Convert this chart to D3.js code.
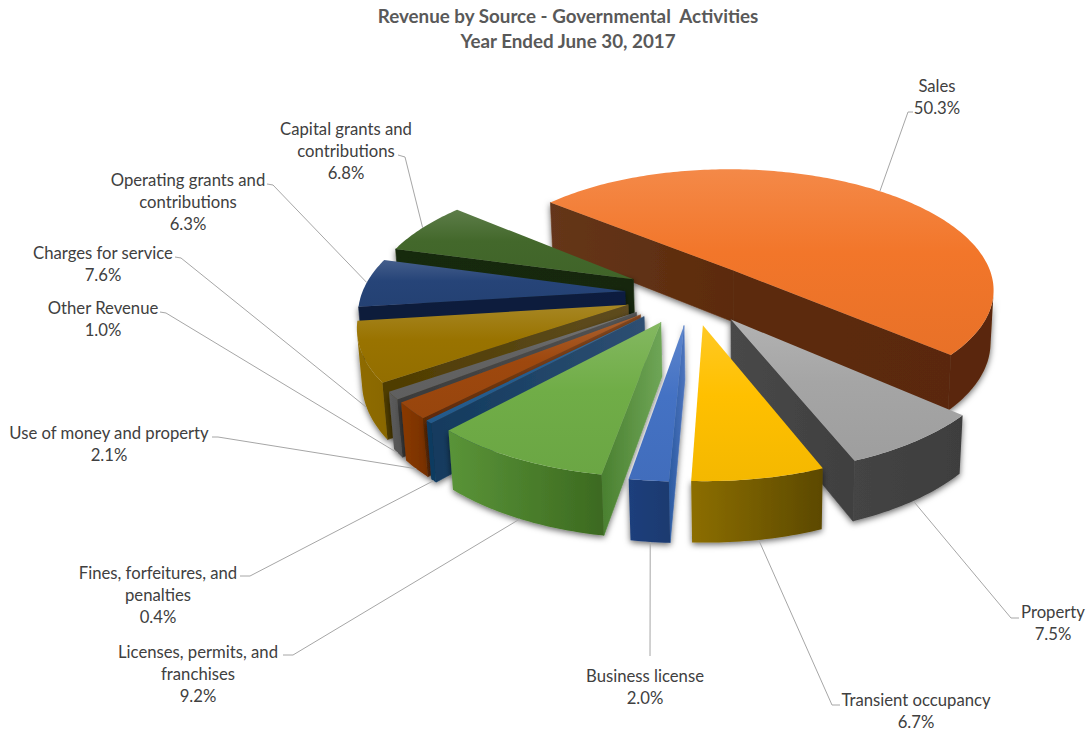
<!DOCTYPE html>
<html>
<head>
<meta charset="utf-8">
<title>Revenue by Source - Governmental Activities</title>
<style>
  html, body { margin: 0; background: #fff; }
  svg { display: block; }
  text { font-family: Lato, "Open Sans", sans-serif; white-space: pre; }
</style>
</head>
<body>
<svg id="chart" width="1090" height="732"></svg>
<script src="https://cdn.jsdelivr.net/npm/d3@7"></script>
<script>
// Revenue sources and their share of the total, clockwise from Sales.
const sources = ["Sales", "Property", "Transient occupancy", "Business license",
  "Licenses, permits, and franchises", "Fines, forfeitures, and penalties",
  "Use of money and property", "Other Revenue", "Charges for service",
  "Operating grants and contributions", "Capital grants and contributions"];
const shares = [50.3, 7.5, 6.7, 2.0, 9.2, 0.4, 2.1, 1.0, 7.6, 6.3, 6.8];

// Label text broken into rows, one list per source.
const labelRows = [["Sales"], ["Property"], ["Transient occupancy"], ["Business license"],
  ["Licenses, permits, and", "franchises"], ["Fines, forfeitures, and", "penalties"],
  ["Use of money and property"], ["Other Revenue"], ["Charges for service"],
  ["Operating grants and", "contributions"], ["Capital grants and", "contributions"]];

// Face colours of the slices.
const topColors = ["#f2762a", "#a5a5a5", "#ffc000", "#4472c4", "#70ad47", "#255e91",
  "#9e480e", "#636363", "#997300", "#264478", "#43682b"];
// Rim wall colour at the slice's first and last angle.
const rimWallColors = [["#5a2809", "#5a2809"], ["#3e3e3e", "#444444"], ["#5c4900", "#8c6e00"],
  ["#1b3a70", "#1f3f7c"], ["#3c6a20", "#5a9438"], ["#0f3a60", "#103c64"], ["#7a3205", "#8a3a05"],
  ["#565656", "#5c5c5c"], ["#8a6800", "#8f6c00"], ["#1e3060", "#1e3060"], ["#2e4a1c", "#2e4a1c"]];
// Cut-face colours (rim end, centre end) for the first and last radial edge.
const startWallColors = [["#65361a", "#5c2b0c"], ["#404040", "#484848"], ["#5c4900", "#5c4900"],
  ["#2a5aa0", "#4a72bc"], ["#4a8030", "#6ea556"], ["#123a5e", "#2e4f72"], ["#5e2a06", "#8a4a20"],
  ["#3a3a3a", "#555555"], ["#4f3c00", "#5e4c20"], ["#0a1a3a", "#0b1c3f"], ["#17290c", "#15280a"]];
const endWallColors = [["#5a2809", "#5c2b0c"], ["#404040", "#484848"], ["#8c6e00", "#8c6e00"],
  ["#1f3f7c", "#1f3f7c"], ["#5a9438", "#5a9438"], ["#103c64", "#103c64"], ["#8a3a05", "#8a3a05"],
  ["#5c5c5c", "#5c5c5c"], ["#8f6c00", "#8f6c00"], ["#1e3060", "#1e3060"], ["#2e4a1c", "#2e4a1c"]];

// Pie layout on the ground plane: unit radius, every slice pulled out by the same distance.
const firstAngle = -52.948 * Math.PI / 180;
const explosion = 0.253;

// Homogeneous camera matrix mapping ground coordinates (u, v, z) to the page.
const cameraX = [257.22, 115.65, -9.57, 691.29];
const cameraY = [3.76, -79.02, -57.02, 293.43];
const cameraW = [-0.00846, 0.14761, -0.01274, 1];

function project(u, v, z) {
  const w = cameraW[0] * u + cameraW[1] * v + cameraW[2] * z + cameraW[3];
  return [(cameraX[0] * u + cameraX[1] * v + cameraX[2] * z + cameraX[3]) / w,
          (cameraY[0] * u + cameraY[1] * v + cameraY[2] * z + cameraY[3]) / w];
}

const slices = d3.pie().sort(null)
  .startAngle(firstAngle).endAngle(firstAngle + 2 * Math.PI)(shares)
  .map((d, i) => ({ ...d, i, mid: (d.startAngle + d.endAngle) / 2 }));

// A point on a slice given an angle, a radius and a height (0 top, -1 base).
function slicePoint(s, angle, radius, z) {
  return project(explosion * Math.sin(s.mid) + radius * Math.sin(angle),
                 explosion * Math.cos(s.mid) + radius * Math.cos(angle), z);
}

const svg = d3.select("#chart");
const defs = svg.append("defs");
const outline = d3.line();

// Soft shadow under the side walls.
const shadow = defs.append("filter").attr("id", "wallShadow")
  .attr("x", "-20%").attr("y", "-20%").attr("width", "140%").attr("height", "140%");
shadow.append("feDropShadow").attr("dx", 0).attr("dy", 2).attr("stdDeviation", 3)
  .attr("flood-color", "#000").attr("flood-opacity", 0.6);

// Each top face is lightest at its far edge.
slices.forEach(s => {
  const base = topColors[s.i];
  const g = defs.append("linearGradient").attr("id", "top" + s.i)
    .attr("x1", 0).attr("y1", 0).attr("x2", 0).attr("y2", 1);
  g.append("stop").attr("offset", 0).attr("stop-color", d3.interpolateRgb(base, "#fff")(0.14));
  g.append("stop").attr("offset", 0.45).attr("stop-color", base);
  g.append("stop").attr("offset", 1).attr("stop-color", d3.rgb(base).darker(0.12));
});

// A left-to-right gradient between two page points, used to shade one wall.
function wallFill(id, from, to, colors) {
  const g = defs.append("linearGradient").attr("id", id).attr("gradientUnits", "userSpaceOnUse")
    .attr("x1", from[0]).attr("y1", 0).attr("x2", to[0]).attr("y2", 0);
  g.append("stop").attr("offset", 0).attr("stop-color", colors[0]);
  g.append("stop").attr("offset", 1).attr("stop-color", colors[1]);
  return `url(#${id})`;
}

// Positive when a wall, wound in drawing order, faces the viewer.
const facing = quad => d3.polygonArea(quad) > 0;

// Far slices first so that nearer ones paint over them.
const drawOrder = slices.slice().sort((a, b) => d3.descending(Math.cos(a.mid), Math.cos(b.mid)));

drawOrder.forEach(s => {
  const g = svg.append("g").attr("class", "slice");
  const walls = g.append("g").attr("filter", "url(#wallShadow)");

  // Radial cut faces.
  const radial = (angle, colors, id, flip) => {
    const rimTop = slicePoint(s, angle, 1, 0), hubTop = slicePoint(s, angle, 0, 0);
    const quad = [rimTop, hubTop, slicePoint(s, angle, 0, -1), slicePoint(s, angle, 1, -1)];
    if (!facing(flip ? quad.slice().reverse() : quad)) return;
    const fill = wallFill(id + s.i, rimTop, hubTop, colors);
    walls.append("path").attr("d", outline(quad) + "Z")
      .attr("fill", fill).attr("stroke", fill).attr("stroke-width", 0.6);
  };
  radial(s.startAngle, startWallColors[s.i], "startWall", true);
  radial(s.endAngle, endWallColors[s.i], "endWall", false);

  // Outer wall, keeping only the part turned towards the viewer.
  const steps = Math.max(6, Math.ceil((s.endAngle - s.startAngle) / (Math.PI / 180)));
  const angles = d3.range(steps + 1).map(k => s.startAngle + (s.endAngle - s.startAngle) * k / steps);
  const visible = d3.pairs(angles).filter(([a0, a1]) => facing(
    [slicePoint(s, a0, 1, 0), slicePoint(s, a1, 1, 0), slicePoint(s, a1, 1, -1), slicePoint(s, a0, 1, -1)]));
  if (visible.length) {
    const run = [visible[0][0], ...visible.map(p => p[1])];
    const ring = [...run.map(a => slicePoint(s, a, 1, 0)),
                  ...run.slice().reverse().map(a => slicePoint(s, a, 1, -1))];
    walls.append("path").attr("d", outline(ring) + "Z")
      .attr("fill", wallFill("rimWall" + s.i, slicePoint(s, s.startAngle, 1, 0),
        slicePoint(s, s.endAngle, 1, 0), rimWallColors[s.i]));
  }

  // Top face.
  const top = [slicePoint(s, s.mid, 0, 0), ...angles.map(a => slicePoint(s, a, 1, 0))];
  g.append("path").attr("d", outline(top) + "Z").attr("fill", `url(#top${s.i})`);
});

// Label placement: x of the text centre, y of the first baseline, the outer end of
// each leader, its bend next to the text, and how far down the wall it ends.
const labelCenterX = [937, 1053, 916, 645, 198, 158, 109, 103, 103, 188, 346];
const labelFirstY = [92, 618, 706, 682, 658, 579, 439, 314, 259, 186, 135];
const leaderStart = [[913, 112], [1019, 618], [840, 705], [650, 656], [283, 655], [240, 576],
  [212, 437], [160, 312], [175, 257], [267, 184], [398, 155]];
const leaderBend = [[908, 112], [1011, 618], [832, 705], [650, 656], [293, 655], [250, 576],
  [218, 437], [166, 313], [181, 258], [273, 185], [405, 157]];
const leaderDepth = [0, -1, -1, -1, -1, -1, -1, -1, -1, 0, 0];

const rowHeight = 22;

const leaders = svg.append("g").attr("fill", "none").attr("stroke", "#a6a6a6").attr("stroke-width", 1);
slices.forEach(s => {
  const end = slicePoint(s, s.mid, 1, leaderDepth[s.i]);
  leaders.append("path").attr("d", outline([leaderStart[s.i], leaderBend[s.i], end]));
});

const labels = svg.append("g").attr("fill", "#404040").attr("font-size", 16.7).attr("text-anchor", "middle");
slices.forEach(s => {
  const rows = [...labelRows[s.i], s.data.toFixed(1) + "%"];
  const t = labels.append("text").attr("x", labelCenterX[s.i]).attr("y", labelFirstY[s.i]);
  rows.forEach((row, k) => t.append("tspan").attr("x", labelCenterX[s.i])
    .attr("dy", k ? rowHeight : 0).text(row));
});

// Chart title.
const titleRows = ["Revenue by Source - Governmental  Activities", "Year Ended June 30, 2017"];
svg.append("g").attr("fill", "#595959").attr("font-size", 18.8).attr("font-weight", 700)
  .attr("text-anchor", "middle")
  .selectAll("text").data(titleRows).join("text")
  .attr("x", 568).attr("y", (d, i) => 23 + i * 25).text(d => d);
</script>
</body>
</html>
